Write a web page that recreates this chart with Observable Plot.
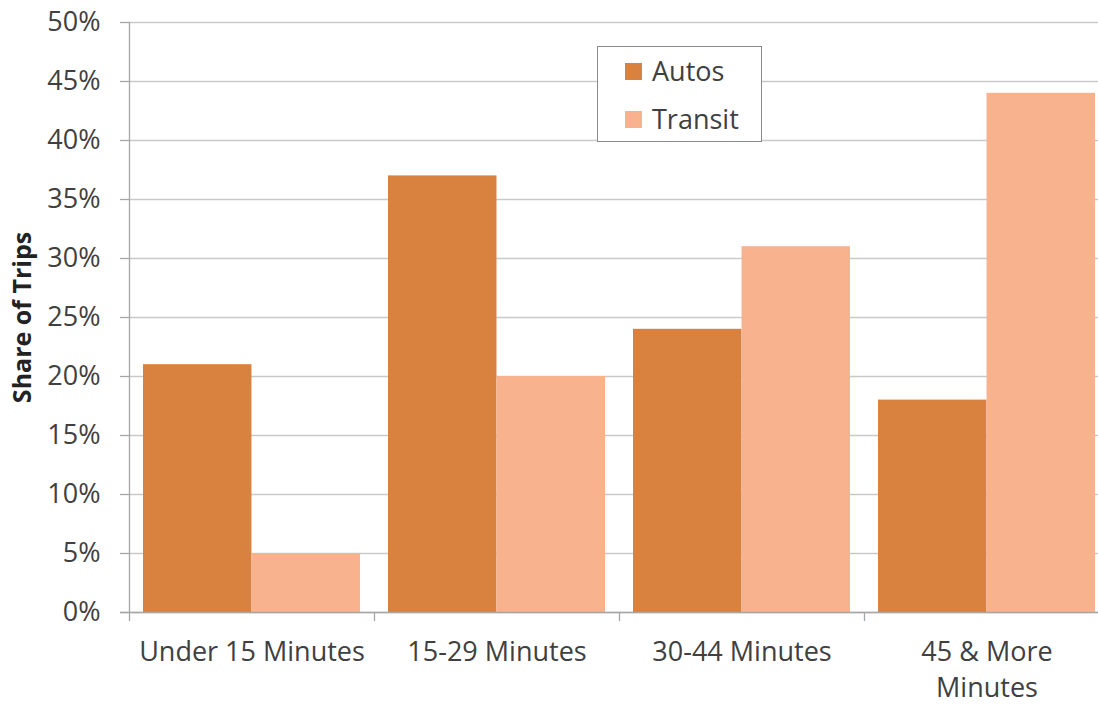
<!DOCTYPE html>
<html>
<head>
<meta charset="utf-8">
<script src="https://cdn.jsdelivr.net/npm/d3@7"></script>
<script src="https://cdn.jsdelivr.net/npm/@observablehq/plot@0.6"></script>
<style>
  html, body { margin: 0; padding: 0; background: #fff; }
  #wrap { position: relative; width: 1098px; height: 705px; overflow: hidden; font-family: "Open Sans", sans-serif; }
  #legend { position: absolute; left: 597px; top: 46px; width: 163px; height: 94px; border: 1.5px solid #8a8a8a; background: #fff; box-sizing: content-box; }
  .item { position: absolute; left: 27px; height: 34px; display: flex; align-items: center; font-size: 27px; line-height: 34px; color: #404040; }
  .sw { width: 17px; height: 17px; margin-right: 10px; }
</style>
</head>
<body>
<div id="wrap"><div id="legend"></div></div>
<script>
const categories = ["Under 15 Minutes", "15-29 Minutes", "30-44 Minutes", "45 & More\nMinutes"];
const autos = [21, 37, 24, 18];
const transit = [5, 20, 31, 44];
const seriesNames = ["Autos", "Transit"];
const seriesColors = ["#D9823F", "#F8B28D"];
const yTicks = [0, 5, 10, 15, 20, 25, 30, 35, 40, 45, 50];
const yLabel = "Share of Trips";

const W = 1098, H = 705, mL = 129, mR = -11, mT = 22, mB = 93;
const step = (W - mL - mR) / categories.length;
const padInner = 0.114, padOuter = 0.057;
const band = step * (1 - padInner);
const gridColor = "#c9c9c9";
const axisColor = "#a6a6a6";

const autoData = categories.map((c, i) => ({cat: c, v: autos[i]}));
const transitData = categories.map((c, i) => ({cat: c, v: transit[i]}));

const chart = Plot.plot({
  width: W, height: H,
  marginLeft: mL, marginRight: mR, marginTop: mT, marginBottom: mB,
  style: {fontFamily: "Open Sans", fontSize: "27px", color: "#404040", background: "transparent"},
  x: {domain: categories, paddingInner: padInner, paddingOuter: padOuter, axis: null},
  y: {domain: [0, 50], axis: null},
  marks: [
    Plot.gridY(yTicks, {stroke: gridColor, strokeOpacity: 1, strokeWidth: 1.3}),
    Plot.barY(autoData, {x: "cat", y: "v", fill: seriesColors[0], insetRight: band / 2}),
    Plot.barY(transitData, {x: "cat", y: "v", fill: seriesColors[1], insetLeft: band / 2}),
    Plot.ruleY([0], {stroke: axisColor, strokeWidth: 1.3, insetLeft: -9}),
    Plot.ruleX([categories[0]], {stroke: axisColor, strokeWidth: 1.3, dx: -step / 2}),
    Plot.ruleX(categories, {y1: 0, y2: 0, stroke: axisColor, strokeWidth: 1.3, dx: -step / 2, insetBottom: -9}),
    Plot.axisY(yTicks, {tickSize: 9, tickPadding: 20, stroke: axisColor, strokeWidth: 1.3, strokeOpacity: 1, tickFormat: d => d + "%", fontSize: 27, label: null}),
    Plot.axisX({tickSize: 0, tickPadding: 23, fontSize: 27, lineHeight: 1.33, label: null}),
    Plot.text([yLabel], {frameAnchor: "left", textAnchor: "middle", rotate: -90, dx: -107, fontWeight: "bold", fontSize: 25, fill: "#222"})
  ]
});
document.getElementById("wrap").prepend(chart);

const legend = document.getElementById("legend");
seriesNames.forEach((name, i) => {
  const it = document.createElement("div");
  it.className = "item";
  it.style.top = (i === 0 ? 7 : 55) + "px";
  const sw = document.createElement("div");
  sw.className = "sw";
  sw.style.background = seriesColors[i];
  const tx = document.createElement("span");
  tx.textContent = name;
  it.appendChild(sw); it.appendChild(tx);
  legend.appendChild(it);
});
</script>
</body>
</html>
